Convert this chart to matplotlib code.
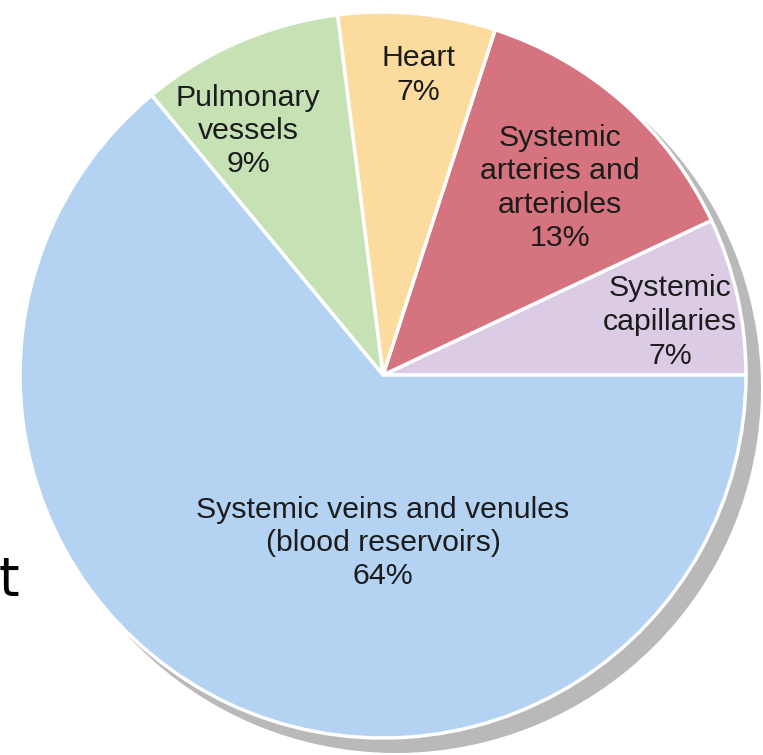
import matplotlib.pyplot as plt
from matplotlib.patches import Circle

labels = ["Systemic\ncapillaries\n7%", "Systemic\narteries and\narterioles\n13%",
          "Heart\n7%", "Pulmonary\nvessels\n9%",
          "Systemic veins and venules\n(blood reservoirs)\n64%"]
values = [7, 13, 7, 9, 64]
colors = ["#dccbe4", "#d5737e", "#fcdb9e", "#c6e1b4", "#b4d3f3"]
# label anchor points in pixel coords (x, y from top)
label_pos = [(670, 322), (560, 188), (418, 75), (248, 131), (383, 543)]

W, H = 763, 755
fig = plt.figure(figsize=(W / 100, H / 100), dpi=100)
ax = fig.add_axes([0, 0, 1, 1])

cx, cy, r = 383, H - 375, 363

# drop shadow
ax.add_patch(Circle((cx + 13, cy - 13), r + 2, color="#b9b9b9", zorder=0, lw=0))

ax.pie(values, colors=colors, startangle=0, counterclock=True, center=(cx, cy), radius=r,
       wedgeprops=dict(edgecolor="white", linewidth=2.5), frame=True)
ax.set_xlim(0, W)
ax.set_ylim(0, H)
ax.set_aspect('equal')
ax.axis('off')

for lab, (x, y) in zip(labels, label_pos):
    ax.text(x, H - y, lab, ha="center", va="center", fontsize=21.8, family="Liberation Sans",
            color="#1c1c1c", linespacing=1.25)

ax.text(9, H - 580, "t", ha="center", va="center", fontsize=38, family="DejaVu Sans", color="black")

plt.savefig("out.png", dpi=100)
